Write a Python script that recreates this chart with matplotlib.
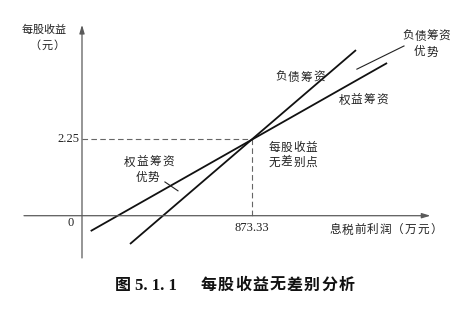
import matplotlib
matplotlib.use("Agg")
import matplotlib.pyplot as plt

plt.rcParams['font.family'] = ['Noto Sans CJK SC', 'DejaVu Sans']

# Data (EBIT in 万元, EPS in 元)
indiff_ebit = 873.33
indiff_eps = 2.25
equity_ebit = [44.7, 1567]
equity_eps = [-0.45, 4.48]
debt_ebit = [246.6, 1407.5]
debt_eps = [-0.83, 4.86]
tick_x_labels = ["0", "873.33"]
tick_y_labels = ["0", "2.25"]

W, H = 476, 316
fig = plt.figure(figsize=(W / 100, H / 100), dpi=100)
ax = fig.add_axes([0, 0, 1, 1])
ax.set_xlim(-421.2, 2023.9)
ax.set_ylim(-2.943, 6.329)
ax.axis('off')

axis_col = '#5a5a5a'
# x axis
ax.annotate('', xy=(1790, 0), xytext=(-298, 0),
            arrowprops=dict(arrowstyle='-|>,head_length=0.5,head_width=0.15',
                            color=axis_col, lw=0.9, shrinkA=0, shrinkB=0))
# y axis
ax.annotate('', xy=(0, 5.6), xytext=(0, -1.24),
            arrowprops=dict(arrowstyle='-|>,head_length=0.5,head_width=0.15',
                            color=axis_col, lw=0.9, shrinkA=0, shrinkB=0))

# dashed guides
ax.plot([0, indiff_ebit], [indiff_eps, indiff_eps], ls=(0, (5, 3)), color='#666666', lw=0.8)
ax.plot([indiff_ebit, indiff_ebit], [indiff_eps, 0], ls=(0, (5, 3)), color='#666666', lw=0.8)

# lines
ax.plot(equity_ebit, equity_eps, color='#111111', lw=1.3, solid_capstyle='butt')
ax.plot(debt_ebit, debt_eps, color='#111111', lw=1.3, solid_capstyle='butt')

serif = ['Liberation Serif', 'DejaVu Serif']
tc = '#222222'
ax.text(-40, 0 - 0.2, tick_x_labels[0], ha='right', va='center', fontsize=9, family=serif, color=tc)
ax.text(-15, indiff_eps, tick_y_labels[1], ha='right', va='center', fontsize=9, family=serif, color=tc)
ax.text(indiff_ebit, -0.35, tick_x_labels[1], ha='center', va='center', fontsize=9, family=serif, color=tc)


def spaced(cx, cy, s, pitch, fs=8.4, color=tc, fontweight='normal'):
    n = len(s)
    for i, ch in enumerate(s):
        x = cx + (i - (n - 1) / 2) * pitch
        fig.text(x / W, 1 - cy / H, ch, ha='center', va='center', fontsize=fs,
                 color=color, fontweight=fontweight)


spaced(43.5, 30, '每股收益', 11, fs=8.0)
spaced(47, 46, '（元）', 12.5, fs=8.0)
spaced(385.5, 230, '息税前利润（万元）', 12.6)
spaced(300, 77, '负债筹资', 12.5)
spaced(363, 100, '权益筹资', 12.5)
spaced(426, 36, '负债筹资', 12)
spaced(426, 52, '优势', 12.5)
spaced(293, 147, '每股收益', 12.5)
spaced(293, 162, '无差别点', 12.5)
spaced(149, 162, '权益筹资', 12.8)
spaced(147.5, 177, '优势', 12.5)

# leaders
ax.plot([426, 493], [0.99, 0.73], color='#222222', lw=0.8)
ax.plot([1412, 1654], [4.30, 4.98], color='#222222', lw=0.8)

# caption
cap_y = 1 - 285 / H
fig.text(122.5 / W, cap_y, '图', ha='center', va='center', fontsize=11.5,
         fontweight='bold', color='#111111')
fig.text(155.5 / W, cap_y - 0.003, '5. 1. 1', ha='center', va='center', fontsize=12,
         fontweight='bold', family=serif, color='#111111')
spaced(277.5, 285, '每股收益无差别分析', 17.2, fs=11.5, fontweight='bold', color='#111111')

fig.savefig('out.png', dpi=100, facecolor='white')
